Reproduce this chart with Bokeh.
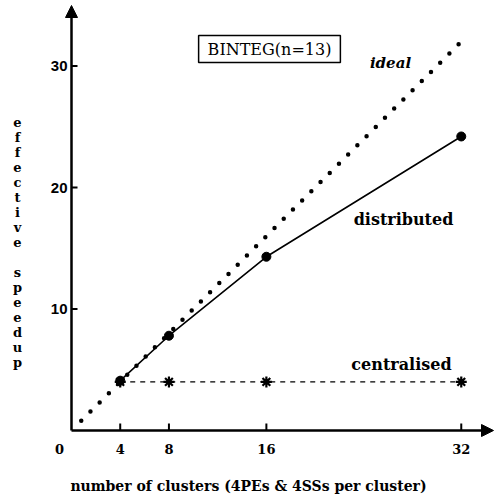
from bokeh.plotting import figure
from bokeh.models import Range1d, Label, Arrow, NormalHead
from bokeh.embed import file_html
from bokeh.resources import INLINE
from bokeh.core.properties import value

# ---- data ----
clusters = [4, 8, 16, 32]
distributed = [4.1, 7.8, 14.3, 24.2]
centralised = [4.0, 4.0, 4.0, 4.0]
ideal_x = [0.8, 32]
ideal_y = [0.8, 32]
x_ticks = [4, 8, 16, 32]
x_tick_labels = ["4", "8", "16", "32"]
y_ticks = [10, 20, 30]
y_tick_labels = ["10", "20", "30"]

# ---- layout helpers (canvas pixels -> data units) ----
W = H = 497
X0, Y0 = 71, 430
KX, KY = 12.18, 12.15


def dx(cx):
    return (cx - X0) / KX


def dy(cy):
    return (Y0 - cy) / KY


p = figure(width=W, height=H, output_backend="svg", toolbar_location=None,
           title=None,
           x_range=Range1d(dx(0), dx(W)), y_range=Range1d(dy(H), dy(0)),
           min_border=0)
p.outline_line_color = None
p.grid.visible = False
p.axis.visible = False
p.background_fill_color = "white"
p.border_fill_color = "white"

# axes with arrow heads
p.add_layout(Arrow(end=NormalHead(size=12, fill_color="black", line_color="black"),
                   x_start=0, y_start=0, x_end=0, y_end=dy(5), line_width=2.5))
p.add_layout(Arrow(end=NormalHead(size=12, fill_color="black", line_color="black"),
                   x_start=0, y_start=0, x_end=dx(493), y_end=0, line_width=2.5))

# ticks (pointing inwards)
p.segment(x0=x_ticks, y0=[0] * len(x_ticks), x1=x_ticks,
          y1=[7 / KY] * len(x_ticks), line_color="black", line_width=2)
p.segment(x0=[0] * len(y_ticks), y0=y_ticks, x1=[6 / KX] * len(y_ticks),
          y1=y_ticks, line_color="black", line_width=2)

# tick labels
p.text(x=x_ticks, y=[dy(448)] * len(x_ticks), text=x_tick_labels,
       text_font=value("DejaVu Serif"), text_font_style="bold",
       text_font_size="13px", text_align="center", text_baseline="middle",
       text_color="black")
p.text(x=[dx(67)] * len(y_ticks), y=y_ticks, text=y_tick_labels,
       text_font=value("Liberation Sans"), text_font_style="bold",
       text_font_size="15px", text_align="right", text_baseline="middle",
       text_color="black")

# ideal (dotted)
p.line(ideal_x, ideal_y, line_color="black", line_width=4.5,
       line_dash="0 13", line_cap="round")

# centralised
p.line(clusters, centralised, line_color="black", line_width=1.2, line_dash="5 5")
p.scatter(clusters, centralised, marker="asterisk", size=11,
          line_color="black", line_width=2.2)

# distributed
p.line(clusters, distributed, line_color="black", line_width=1.6)
p.scatter(clusters, distributed, marker="circle", size=9,
          fill_color="black", line_color="black")

# ---- texts ----
serif = "DejaVu Serif"


def lab(px, py, text, size, style="bold", **kw):
    p.add_layout(Label(x=dx(px), y=dy(py), text=text, text_font=serif,
                       text_font_style=style, text_font_size=size,
                       text_color="black", text_align="center",
                       text_baseline="middle", **kw))


lab(269, 48.5, "BINTEG(n=13)", "16px", style="normal",
    border_line_color="black", border_line_width=1.5,
    background_fill_color="white",
    padding=dict(left=9, right=9, top=4, bottom=4))
lab(390, 62, "ideal", "15px", style="bold italic")
lab(403, 219, "distributed", "16px")
lab(401, 364, "centralised", "16px")
lab(59, 448, "0", "13px")
lab(248, 485, "number of clusters (4PEs & 4SSs per cluster)", "14px")
lab(17, 242, "\n".join("effective speedup"), "13px", text_line_height=1.0)

open("out.html", "w").write(file_html(p, INLINE))
